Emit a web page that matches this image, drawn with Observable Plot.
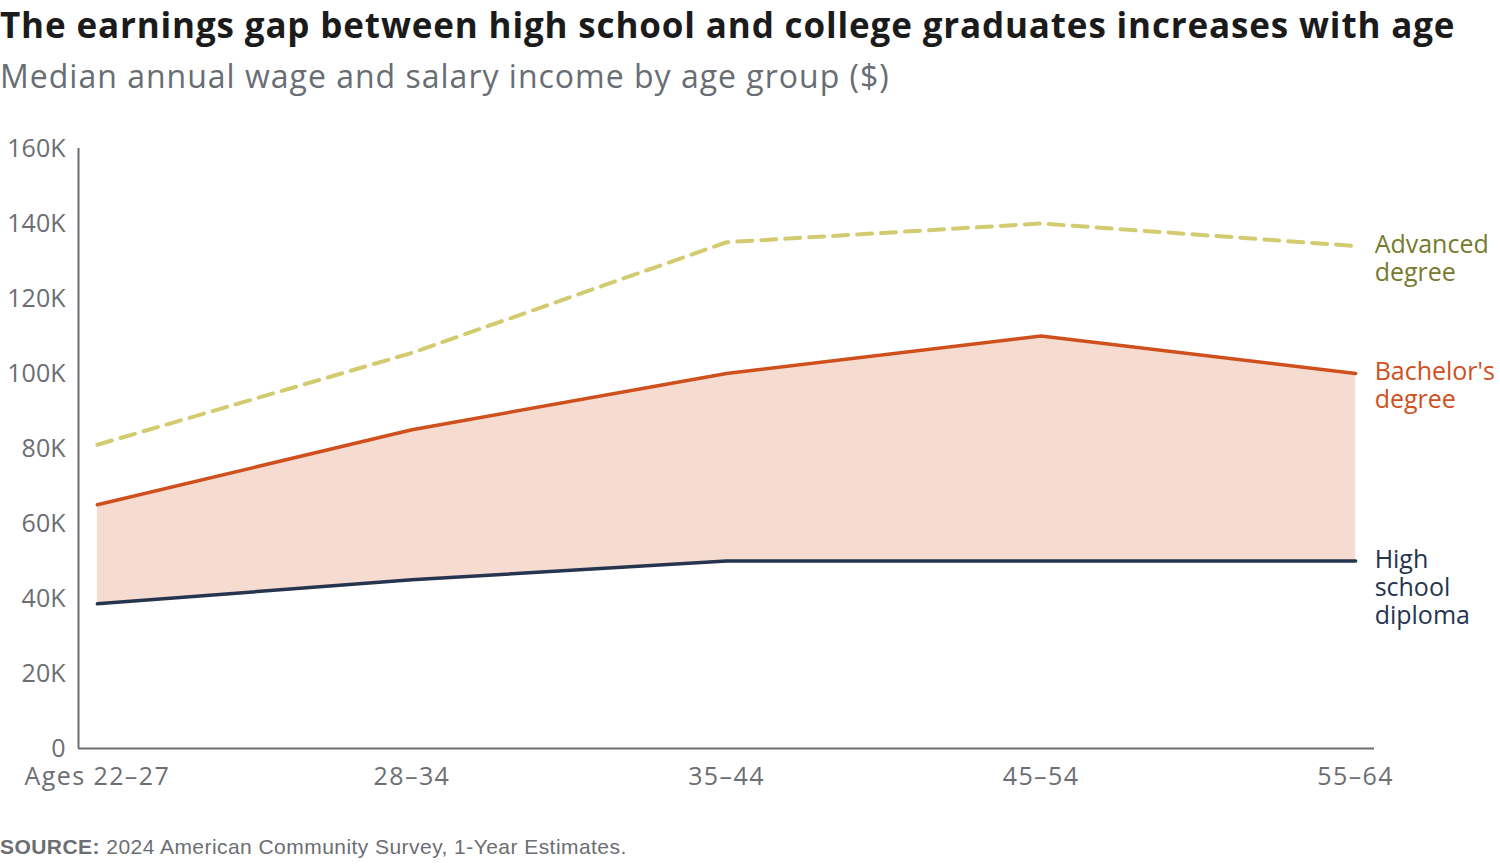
<!DOCTYPE html>
<html>
<head>
<meta charset="utf-8">
<script src="https://cdn.jsdelivr.net/npm/d3@7"></script>
<script src="https://cdn.jsdelivr.net/npm/@observablehq/plot@0.6"></script>
<style>
  html, body { margin: 0; padding: 0; background: #fff; }
  #page { position: relative; width: 1500px; height: 864px; overflow: hidden; }
  .title { position: absolute; left: 0; top: 7px; font-family: "Open Sans", sans-serif; font-weight: 700;
           font-size: 35px; letter-spacing: 0.85px; line-height: 1; color: #1b1b1b; white-space: nowrap; }
  .subtitle { position: absolute; left: 0; top: 60px; font-family: "Open Sans", sans-serif; font-weight: 400;
              font-size: 32px; letter-spacing: 1px; line-height: 1; color: #686d74; white-space: nowrap; }
  #chart { position: absolute; left: 0; top: 110px; }
  .source { position: absolute; left: 0; top: 836px; font-family: "Liberation Sans", Arial, sans-serif;
            font-size: 21px; letter-spacing: 0.45px; line-height: 1; color: #6b6e73; white-space: nowrap; }
  .source b { font-weight: 700; }
  #chart g[aria-label="x-axis tick label"] text { letter-spacing: 1.4px; }
</style>
</head>
<body>
<div id="page">
  <div class="title">The earnings gap between high school and college graduates increases with age</div>
  <div class="subtitle">Median annual wage and salary income by age group ($)</div>
  <div id="chart"></div>
  <div class="source"><b>SOURCE:</b> 2024 American Community Survey, 1-Year Estimates.</div>
</div>
<script>
// Age groups along the x axis
const ages = ["Ages 22–27", "28–34", "35–44", "45–54", "55–64"];

// Median annual wage and salary income, by education level
const highSchool = [38600, 45000, 50000, 50000, 50000];
const bachelors  = [65000, 85000, 100000, 110000, 100000];
const advanced   = [81000, 105500, 135000, 140000, 134000];

// Y axis ticks and their labels
const yTicks      = [0, 20000, 40000, 60000, 80000, 100000, 120000, 140000, 160000];
const yTickLabels = ["0", "20K", "40K", "60K", "80K", "100K", "120K", "140K", "160K"];

// Series labels drawn at the right end of each line
const seriesLabels = {
  adv: "Advanced\ndegree",
  ba: "Bachelor's\ndegree",
  hs: "High\nschool\ndiploma"
};

const colors = { adv: "#d3cb70", advText: "#767a2c", ba: "#cf4f1d", hs: "#26344f", gap: "#f5dbd0", axis: "#6b6e73" };

const rows = ages.map((age, i) => ({ i, age, hs: highSchool[i], ba: bachelors[i], adv: advanced[i] }));
const last = rows[rows.length - 1];

const pad = 0.06;
const xDomain = [-pad, ages.length - 1 + pad];

const labelOpts = { x: "i", dx: 19, dy: -13, textAnchor: "start", lineAnchor: "top", fontSize: 25, lineHeight: 28 / 25 };

const chart = Plot.plot({
  width: 1500,
  height: 698,
  marginLeft: 78,
  marginRight: 126,
  marginTop: 38,
  marginBottom: 60,
  style: { fontFamily: "'Open Sans', sans-serif", fontSize: "25px", color: colors.axis, background: "transparent", overflow: "visible" },
  x: { type: "linear", domain: xDomain, ticks: ages.map((_, i) => i), tickFormat: i => ages[i], tickSize: 0, tickPadding: 19, label: null },
  y: { domain: [0, 160000], ticks: yTicks, tickFormat: v => yTickLabels[yTicks.indexOf(v)], tickSize: 0, tickPadding: 13, label: null },
  marks: [
    // Shaded gap between high school and bachelor's earnings
    Plot.areaY(rows, { x: "i", y1: "hs", y2: "ba", fill: colors.gap }),
    // Axis lines
    Plot.ruleX([xDomain[0]], { stroke: colors.axis, strokeWidth: 2 }),
    Plot.ruleY([0], { stroke: colors.axis, strokeWidth: 2 }),
    // Series lines
    Plot.lineY(rows, { x: "i", y: "adv", stroke: colors.adv, strokeWidth: 4, strokeDasharray: "15,9", strokeLinecap: "round" }),
    Plot.lineY(rows, { x: "i", y: "ba", stroke: colors.ba, strokeWidth: 3.5, strokeLinecap: "round" }),
    Plot.lineY(rows, { x: "i", y: "hs", stroke: colors.hs, strokeWidth: 3.5, strokeLinecap: "round" }),
    // Direct labels
    Plot.text([last], { ...labelOpts, y: "adv", text: () => seriesLabels.adv, fill: colors.advText }),
    Plot.text([last], { ...labelOpts, y: "ba", text: () => seriesLabels.ba, fill: colors.ba }),
    Plot.text([last], { ...labelOpts, y: "hs", text: () => seriesLabels.hs, fill: colors.hs })
  ]
});

document.getElementById("chart").appendChild(chart);
</script>
</body>
</html>
